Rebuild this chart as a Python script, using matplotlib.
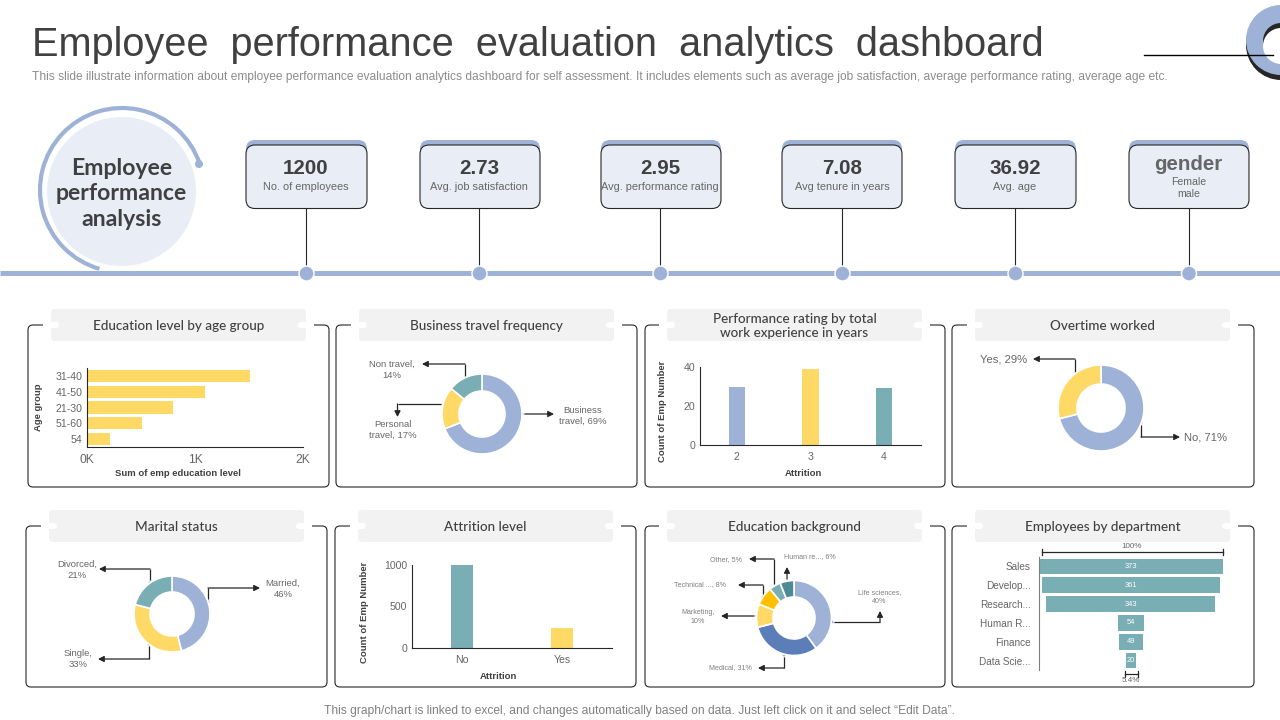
import matplotlib
matplotlib.use('Agg')
import matplotlib.pyplot as plt
from matplotlib.patches import Circle, Arc, FancyBboxPatch, Rectangle

W, H = 1280, 720
plt.rcParams['font.family'] = ['Liberation Sans', 'DejaVu Sans']

BLUE = '#9DB2D6'
MIDBLUE = '#5B7DB8'
YELLOW = '#FFD966'
AMBER = '#FFC000'
TEAL = '#78AEB4'
DTEAL = '#4E8A96'
PALE = '#E9EEF6'
DARK = '#404040'
GREY = '#666666'
HEAD = '#F2F2F2'

# --- data ---
kpi_values = ['1200', '2.73', '2.95', '7.08', '36.92', 'gender']
kpi_labels = ['No. of employees', 'Avg. job satisfaction', 'Avg. performance rating',
              'Avg tenure in years', 'Avg. age', 'Female\nmale']

age_groups = ['31-40', '41-50', '21-30', '51-60', '54']
age_edu = [1506, 1097, 800, 508, 212]

travel_share = [69, 17, 14]
overtime_share = [71, 29]
marital_share = [46, 33, 21]
edu_share = [40, 31, 10, 8, 5, 6]

rating_cats = ['2', '3', '4']
rating_counts = [30, 39, 29]

attrition_cats = ['No', 'Yes']
attrition_counts = [1000, 240]

dept_names = ['Sales', 'Develop...', 'Research...', 'Human R...', 'Finance', 'Data Scie...']
dept_counts = [373, 361, 343, 54, 49, 20]

fig = plt.figure(figsize=(W / 100, H / 100), dpi=100, facecolor='white')
bg = fig.add_axes([0, 0, 1, 1])
bg.set_xlim(0, W)
bg.set_ylim(H, 0)
bg.axis('off')


def px(size):
    return size * 0.72


def ax_px(x0, y0, x1, y1):
    a = fig.add_axes([x0 / W, 1 - y1 / H, (x1 - x0) / W, (y1 - y0) / H])
    a.patch.set_alpha(0)
    return a


def rbox(x0, y0, x1, y1, r, **kw):
    p = FancyBboxPatch((x0 + r, y0 + r), x1 - x0 - 2 * r, y1 - y0 - 2 * r,
                       boxstyle='round,pad=%f,rounding_size=%f' % (r, r), **kw)
    bg.add_patch(p)


def panel(x0, x1, hx0, hx1, y0, y1, hy0, hy1, title):
    rbox(x0, y0, x1, y1, 5, fc='none', ec='#262626', lw=0.8, zorder=2)
    bg.add_patch(Rectangle((hx0 - 8, y0 - 3), hx1 - hx0 + 16, 6, fc='white', ec='none', zorder=3))
    rbox(hx0, hy0, hx1, hy1, 4, fc=HEAD, ec='none', zorder=4)
    rbox(hx0 - 8, y0 - 3, hx0 + 8, y0 + 3, 3, fc='white', ec='none', zorder=5)
    rbox(hx1 - 8, y0 - 3, hx1 + 8, y0 + 3, 3, fc='white', ec='none', zorder=5)
    bg.text((hx0 + hx1) / 2, (hy0 + hy1) / 2 + 1, title, ha='center', va='center', family='Lato',
            fontsize=px(13.5), color=DARK, fontweight='medium', linespacing=1.2, zorder=6)


def donut(cx, cy, r, inner, values, colors):
    a = ax_px(cx - r, cy - r, cx + r, cy + r)
    a.pie(values, colors=colors, startangle=90, counterclock=False, radius=1,
          wedgeprops=dict(width=1 - inner / r, edgecolor='white', linewidth=1.2))
    a.set_xlim(-1, 1)
    a.set_ylim(-1, 1)
    return a


def callout(points, label, tx, ty, size=9.5, color=GREY):
    xs = [p[0] for p in points]
    ys = [p[1] for p in points]
    bg.plot(xs[:-1], ys[:-1], color='#262626', lw=0.9, zorder=6, solid_capstyle='butt')
    bg.annotate('', xy=points[-1], xytext=points[-2], zorder=6,
                arrowprops=dict(arrowstyle='-|>,head_length=0.35,head_width=0.18', color='#262626',
                                lw=0.9, shrinkA=0, shrinkB=0))
    bg.add_patch(Circle(points[0], 2, fc=BLUE, ec='white', lw=0.7, zorder=12))
    bg.text(tx, ty, label, ha='center', va='center', fontsize=px(size), color=color, linespacing=1.25)


def clean(a, ylabel, xlabel, xpos=0.5, ypos=0.5, ypad=12, xpad=5):
    a.spines['top'].set_visible(False)
    a.spines['right'].set_visible(False)
    a.spines['left'].set_color('#262626')
    a.spines['bottom'].set_color('#262626')
    a.tick_params(length=0, colors=GREY)
    a.tick_params(axis='x', pad=5)
    a.set_ylabel(ylabel, fontsize=px(9.5), color=DARK, fontweight='bold', labelpad=ypad, y=ypos)
    a.set_xlabel(xlabel, fontsize=px(9.5), color=DARK, fontweight='bold', x=xpos, labelpad=xpad)


# --- header ---
bg.text(32, 45, 'Employee  performance  evaluation  analytics  dashboard', ha='left', va='center',
        fontsize=px(39.8), color='#404040')
bg.text(32, 77, 'This slide illustrate information about employee performance evaluation analytics dashboard '
        'for self assessment. It includes elements such as average job satisfaction, average performance '
        'rating, average age etc.', ha='left', va='center', fontsize=px(11.97), color='#8C8C8C')

# logo, cut by the right edge
bg.add_patch(Circle((1281, 45), 35, fc='#262626', ec='none'))
bg.add_patch(Circle((1281, 40), 35, fc=BLUE, ec='none'))
bg.add_patch(Circle((1281, 41), 18, fc='#262626', ec='none'))
bg.add_patch(Circle((1281, 46), 18, fc='white', ec='none', zorder=3))
bg.plot([1144, 1273], [55, 55], color='black', lw=1, zorder=4)

# --- timeline ---
bg.plot([0, W], [272.5, 272.5], color=BLUE, lw=3.6, solid_capstyle='butt', zorder=1)
bg.add_patch(Circle((121.5, 191.5), 74.5, fc=PALE, ec='none', zorder=2))
bg.add_patch(Arc((122, 190), 164, 164, theta1=106, theta2=341, color=BLUE, lw=3, zorder=2))
bg.add_patch(Circle((199, 164), 4, fc=BLUE, ec='none', zorder=3))
bg.text(121.5, 194, 'Employee\nperformance\nanalysis', ha='center', va='center', family='Lato',
        fontsize=px(23), fontweight='bold', color=DARK, linespacing=1.25, zorder=4)

box_x0 = [246, 420, 601, 782, 955, 1129]
box_x1 = [367, 540, 721, 902, 1076, 1249]
stem_x = [306, 479, 660, 842, 1015, 1188.5]
for i in range(6):
    rbox(box_x0[i], 140, box_x1[i], 190, 9, fc=BLUE, ec='none', zorder=2)
    rbox(box_x0[i], 145, box_x1[i], 208.5, 9, fc=PALE, ec='#262626', lw=0.8, zorder=3)
    bg.plot([stem_x[i], stem_x[i]], [208.5, 272], color='#262626', lw=0.8, zorder=2)
    bg.add_patch(Circle((stem_x[i] + 0.5, 273.5), 7.5, fc=BLUE, ec='white', lw=1, zorder=4))
    if kpi_values[i] == 'gender':
        bg.text(stem_x[i], 164, kpi_values[i], ha='center', va='center', fontsize=px(20.5),
                fontweight='bold', color=GREY, zorder=5)
        bg.text(stem_x[i], 188, kpi_labels[i], ha='center', va='center', fontsize=px(10.5),
                color=GREY, linespacing=1.35, zorder=5)
    else:
        bg.text(stem_x[i], 169, kpi_values[i], ha='center', va='center', fontsize=px(20.5),
                fontweight='bold', color=DARK, zorder=5)
        bg.text(stem_x[i], 187, kpi_labels[i], ha='center', va='center', fontsize=px(11),
                color=GREY, zorder=5)

# --- panels ---
panel(28, 329, 51, 306, 325, 487, 309, 341, 'Education level by age group')
panel(336, 637, 359, 614, 325, 487, 309, 341, 'Business travel frequency')
panel(645, 945, 667, 922, 325, 487, 309, 341, 'Performance rating by total\nwork experience in years')
panel(952, 1254, 975, 1230, 325, 487, 309, 341, 'Overtime worked')
panel(26, 327, 49, 304, 526, 687, 510, 542, 'Marital status')
panel(335, 636, 358, 613, 526, 687, 510, 542, 'Attrition level')
panel(645, 945, 667, 922, 526, 687, 510, 542, 'Education background')
panel(952, 1254, 975, 1230, 526, 687, 510, 542, 'Employees by department')

# education level by age group
a = ax_px(87, 368, 303, 447)
a.barh(age_groups, age_edu, height=0.76, color=YELLOW)
a.set_xlim(0, 2000)
a.set_ylim(4.5, -0.5)
a.set_xticks([0, 1000, 2000], ['0K', '1K', '2K'], fontsize=px(12))
a.tick_params(axis='y', labelsize=px(10.5))
clean(a, 'Age group', 'Sum of emp education level', xpos=0.42, ypad=9, xpad=2)

# business travel
donut(482, 414, 40, 23, travel_share, [BLUE, YELLOW, TEAL])
callout([(465, 379), (465, 364), (422, 364)], 'Non travel,\n14%', 392, 370)
callout([(444, 404), (397.5, 404), (397.5, 417)], 'Personal\ntravel, 17%', 393, 430)
callout([(522, 414), (554, 414)], 'Business\ntravel, 69%', 582.5, 416)

# performance rating
a = ax_px(700, 367, 921, 445)
a.bar(rating_cats, rating_counts, width=0.22, color=[BLUE, YELLOW, TEAL])
a.set_xlim(-0.5, 2.5)
a.set_ylim(0, 40)
a.set_yticks([0, 20, 40])
a.tick_params(labelsize=px(10.5))
clean(a, 'Count of Emp Number', 'Attrition', xpos=0.466, ypos=0.43, ypad=12)

# overtime
donut(1101, 408, 43, 24, overtime_share, [BLUE, YELLOW])
callout([(1075, 375), (1075, 359), (1033, 359)], 'Yes, 29%', 1004, 360, size=11.3)
callout([(1141, 423), (1141, 437), (1180, 437)], 'No, 71%', 1206, 437, size=11.3)

# marital status
donut(172, 614, 38, 22, marital_share, [BLUE, YELLOW, TEAL])
callout([(150, 583), (150, 569), (99, 569)], 'Divorced,\n21%', 77, 570)
callout([(208, 602), (208, 588), (260, 588)], 'Married,\n46%', 283, 589)
callout([(149, 644), (149, 659), (98, 659)], 'Single,\n33%', 78.5, 659)

# attrition
a = ax_px(412, 565, 612, 648)
a.bar(attrition_cats, attrition_counts, width=0.22, color=[TEAL, YELLOW])
a.set_xlim(-0.5, 1.5)
a.set_ylim(0, 1000)
a.set_yticks([0, 500, 1000])
a.tick_params(labelsize=px(10.5))
clean(a, 'Count of Emp Number', 'Attrition', xpos=0.43, ypos=0.43, ypad=11)

# education background
donut(794, 618, 37.5, 21, edu_share, [BLUE, MIDBLUE, YELLOW, AMBER, TEAL, DTEAL])
g = '#7F7F7F'
callout([(832, 622), (880, 622), (880, 611)], 'Life sciences,\n40%', 879.5, 597, 7.2, g)
callout([(784, 655), (784, 668), (758, 668)], 'Medical, 31%', 730.5, 668, 7.2, g)
callout([(757, 616), (721, 616)], 'Marketing,\n10%', 698, 617, 7.2, g)
callout([(763, 597), (763, 585), (738, 585)], 'Technical ..., 8%', 700.5, 585, 7.2, g)
callout([(774, 587), (774, 559), (749, 559)], 'Other, 5%', 726.5, 559.5, 7.2, g)
callout([(787, 582), (787, 567)], 'Human re..., 6%', 810, 556.5, 7.2, g)

# employees by department, centred funnel
a = ax_px(1039, 557, 1222.6, 670)
half = [v / 2 for v in dept_counts]
a.barh(dept_names, dept_counts, left=[-h for h in half], height=0.84, color=TEAL)
a.set_xlim(-dept_counts[0] / 2, dept_counts[0] / 2)
a.set_ylim(5.5, -0.5)
a.set_xticks([])
for s in ['top', 'right', 'bottom']:
    a.spines[s].set_visible(False)
a.spines['left'].set_color('#7F7F7F')
a.tick_params(length=0, labelsize=px(10), colors=GREY, pad=6)
for i, v in enumerate(dept_counts):
    a.text(0, i, str(v), ha='center', va='center', color='white', fontsize=px(7.5))
for y0, x0, x1 in [(552, 1042, 1223), (674, 1125, 1138)]:
    bg.plot([x0, x1], [y0, y0], color='#262626', lw=0.9)
    bg.plot([x0, x0], [y0 - 3, y0 + 3], color='#262626', lw=0.9)
    bg.plot([x1, x1], [y0 - 3, y0 + 3], color='#262626', lw=0.9)
bg.text(1132, 547, '100%', ha='center', va='center', fontsize=px(8), color=GREY)
bg.text(1131, 681, '5.4%', ha='center', va='center', fontsize=px(8), color=GREY, zorder=8)

# footer
bg.text(640, 711, 'This graph/chart is linked to excel, and changes automatically based on data. '
        'Just left click on it and select \u201cEdit Data\u201d.', ha='center', va='center',
        fontsize=px(12), color='#808080')

fig.savefig('out.png', dpi=100)
